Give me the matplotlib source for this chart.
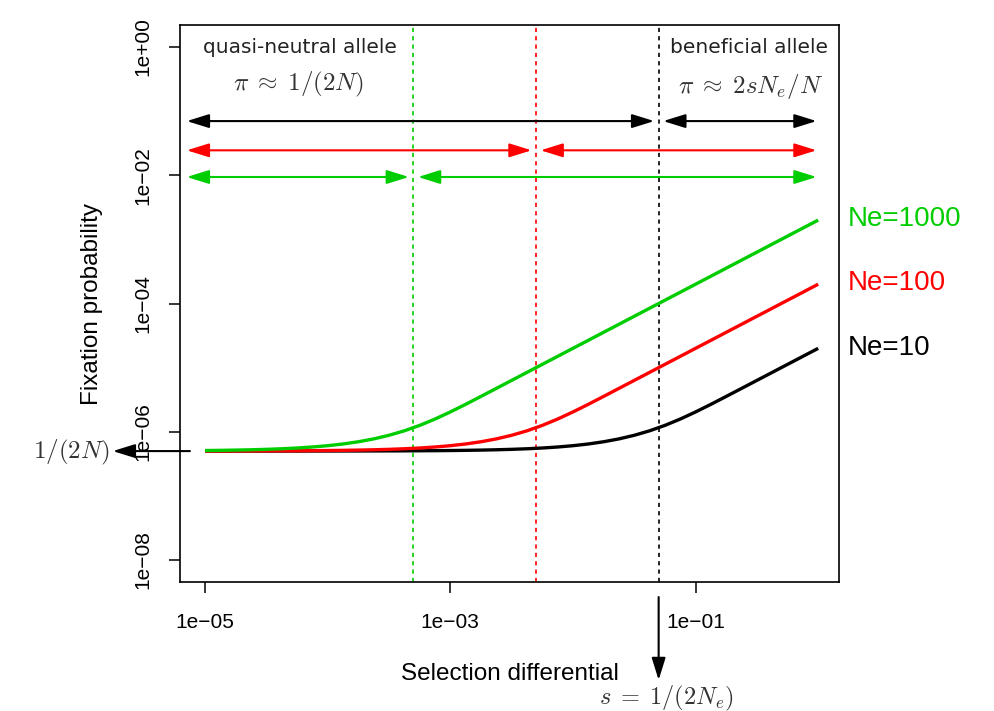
import matplotlib
matplotlib.use("Agg")
import matplotlib.pyplot as plt

plt.rcParams['font.family'] = ['Liberation Sans', 'DejaVu Sans']
plt.rcParams['mathtext.fontset'] = 'cm'

# selection differential (x), 1/8 decade steps
s_values = [1e-5, 1.334e-5, 1.778e-5, 2.371e-5, 3.162e-5, 4.217e-5, 5.623e-5, 7.499e-5,
            1e-4, 1.334e-4, 1.778e-4, 2.371e-4, 3.162e-4, 4.217e-4, 5.623e-4, 7.499e-4,
            1e-3, 1.334e-3, 1.778e-3, 2.371e-3, 3.162e-3, 4.217e-3, 5.623e-3, 7.499e-3,
            1e-2, 1.334e-2, 1.778e-2, 2.371e-2, 3.162e-2, 4.217e-2, 5.623e-2, 7.499e-2,
            1e-1, 0.1334, 0.1778, 0.2371, 0.3162, 0.4217, 0.5623, 0.7499, 1.0]

# fixation probability, in units of 1e-7
pi_ne10 = [5.001, 5.0013, 5.0018, 5.0024, 5.0032, 5.0042, 5.0056, 5.0075,
           5.0100, 5.0134, 5.0178, 5.0238, 5.0317, 5.0423, 5.0565, 5.0754,
           5.1007, 5.1346, 5.1800, 5.2409, 5.3229, 5.4336, 5.5834, 5.7874,
           6.0665, 6.4515, 6.9873, 7.7409, 8.8118, 10.350, 12.573, 15.784,
           20.373, 26.799, 35.594, 47.434, 63.245, 84.34, 112.47, 149.98, 200.0]
pi_ne100 = [5.0100, 5.0134, 5.0178, 5.0238, 5.0317, 5.0423, 5.0565, 5.0754,
            5.1007, 5.1346, 5.1800, 5.2409, 5.3229, 5.4336, 5.5834, 5.7874,
            6.0665, 6.4515, 6.9873, 7.7409, 8.8118, 10.350, 12.573, 15.784,
            20.373, 26.799, 35.594, 47.434, 63.245, 84.34, 112.47, 149.98,
            200.0, 266.7, 355.65, 474.3, 632.45, 843.4, 1124.7, 1499.8, 2000.0]
pi_ne1000 = [5.1007, 5.1346, 5.1800, 5.2409, 5.3229, 5.4336, 5.5834, 5.7874,
             6.0665, 6.4515, 6.9873, 7.7409, 8.8118, 10.350, 12.573, 15.784,
             20.373, 26.799, 35.594, 47.434, 63.245, 84.34, 112.47, 149.98,
             200.0, 266.7, 355.65, 474.3, 632.45, 843.4, 1124.7, 1499.8,
             2000.0, 2667.0, 3556.5, 4743.0, 6324.5, 8434.0, 11247.0, 14998.0, 20000.0]

ne_labels = ["Ne=10", "Ne=100", "Ne=1000"]
ne_colors = ["black", "#ff0000", "#00cd00"]
ne_label_y = [2.0e-5, 2.1e-4, 2.1e-3]
s_threshold = [5e-2, 5e-3, 5e-4]          # s = 1/(2Ne)
arrow_y = [0.07, 0.0245, 0.0094]
pi_neutral = 5e-7                           # 1/(2N)

xticks = [1e-5, 1e-3, 1e-1]
xtick_labels = ["1e\u221205", "1e\u221203", "1e\u221201"]
yticks = [1, 1e-2, 1e-4, 1e-6, 1e-8]
ytick_labels = ["1e+00", "1e\u221202", "1e\u221204", "1e\u221206", "1e\u221208"]

fig = plt.figure(figsize=(9.94, 7.11), dpi=100)
ax = fig.add_axes([0.1811, 0.1814, 0.6630, 0.7834])
ax.set_xscale('log')
ax.set_yscale('log')
ax.set_xlim(10 ** -5.204, 10 ** 0.17)
ax.set_ylim(10 ** -8.343, 10 ** 0.343)

for vals, col in zip([pi_ne10, pi_ne100, pi_ne1000], ne_colors):
    ax.plot(s_values, [v * 1e-7 for v in vals], color=col, lw=2.4,
            solid_capstyle='butt', zorder=3)

for s0, col in zip(s_threshold, ne_colors):
    ax.axvline(s0, color=col, lw=1.2, ls=(0, (2.5, 2.5)), zorder=2)

# double arrows: neutral regime / selected regime
astyle = '<|-|>,head_length=1.35,head_width=0.42'
for s0, col, ya in zip(s_threshold, ne_colors, arrow_y):
    ax.annotate('', xy=(7.1e-6, ya), xytext=(s0 * 0.92, ya),
                arrowprops=dict(arrowstyle=astyle, color=col, lw=1.5,
                                shrinkA=0, shrinkB=0))
    ax.annotate('', xy=(s0 * 1.09, ya), xytext=(0.97, ya),
                arrowprops=dict(arrowstyle=astyle, color=col, lw=1.5,
                                shrinkA=0, shrinkB=0))

ax.text(10 ** -4.224, 1.0, "quasi-neutral allele", family='DejaVu Sans', fontsize=14.5,
        color='#222222', ha='center', va='center')
ax.text(10 ** -4.24, 0.26, r"$\pi\;\approx\;1/(2N)$", fontsize=18, color='#333333',
        ha='center', va='center')
ax.text(10 ** -0.567, 0.97, "beneficial allele", family='DejaVu Sans', fontsize=14.5,
        color='#222222', ha='center', va='center')
ax.text(10 ** -0.55, 0.24, r"$\pi\;\approx\;2sN_e/N$", fontsize=18, color='#333333',
        ha='center', va='center')

for lab, col, yl in zip(ne_labels, ne_colors, ne_label_y):
    ax.text(1.0125, yl, lab, transform=ax.get_yaxis_transform(), color=col,
            fontsize=20, ha='left', va='center')

# 1/(2N) arrow on the left
hstyle = '-|>,head_length=1.35,head_width=0.42'
ax.annotate('', xy=(-0.102, pi_neutral), xytext=(0.015, pi_neutral),
            xycoords=('axes fraction', 'data'), textcoords=('axes fraction', 'data'),
            arrowprops=dict(arrowstyle=hstyle, color='black', lw=1.5,
                            shrinkA=0, shrinkB=0),
            annotation_clip=False)
fig.text(71 / 994, 1 - 452 / 711, r"$1/(2N)$", fontsize=18, color='#333333',
         ha='center', va='center')

# s = 1/(2Ne) arrow at the bottom
ax.annotate('', xy=(s_threshold[0], -0.176), xytext=(s_threshold[0], -0.027),
            xycoords=('data', 'axes fraction'), textcoords=('data', 'axes fraction'),
            arrowprops=dict(arrowstyle=hstyle, color='black', lw=1.5,
                            shrinkA=0, shrinkB=0),
            annotation_clip=False)
fig.text(666 / 994, 1 - 698 / 711, r"$s\;=\;1/(2N_e)$", fontsize=17.5, color='#333333',
         ha='center', va='center')

ax.set_xticks(xticks)
ax.set_xticklabels(xtick_labels)
ax.set_yticks(yticks)
ax.set_yticklabels(ytick_labels, rotation=90, va='center')
ax.minorticks_off()
ax.tick_params(axis='both', length=8, width=1.1, labelsize=15)
ax.tick_params(axis='x', pad=14)
ax.tick_params(axis='y', pad=12)
for sp in ax.spines.values():
    sp.set_linewidth(1.2)

ax.set_xlabel("Selection differential", fontsize=17.5)
ax.xaxis.label.set_va('center')
ax.xaxis.set_label_coords(0.5, -0.165)
ax.set_ylabel("Fixation probability", fontsize=17.5)
ax.yaxis.label.set_va('center')
ax.yaxis.set_label_coords(-0.134, 0.5)

plt.savefig("out.png", dpi=100)
plt.close()
